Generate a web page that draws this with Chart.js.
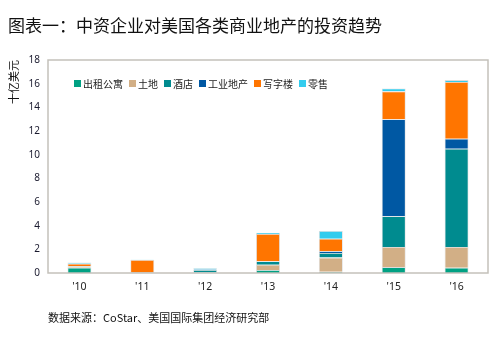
<!DOCTYPE html>
<html>
<head>
<meta charset="utf-8">
<script src="https://cdn.jsdelivr.net/npm/chart.js@4"></script>
<style>
  html, body { margin: 0; padding: 0; background: #fff; }
  body { width: 502px; height: 339px; position: relative; overflow: hidden;
         font-family: "Noto Sans", "Noto Sans CJK SC", sans-serif; }
  #wrap { position: absolute; left: 0; top: 0; width: 502px; height: 339px; }
  #title { position: absolute; left: 8px; top: 12px; font-size: 17px; color: #111;
           font-family: "Noto Sans CJK SC", sans-serif; white-space: nowrap; }
  #source { position: absolute; left: 48px; top: 309px; font-size: 11px; color: #111;
            font-family: "Noto Sans CJK SC", sans-serif; white-space: nowrap; }
  #legend { position: absolute; left: 74px; top: 76px; display: flex; font-size: 10px;
            color: #222; font-family: "Noto Sans CJK SC", sans-serif; white-space: nowrap; }
  #legend span.item { display: flex; align-items: center; margin-right: 6px; }
  #legend span.box { width: 7px; height: 7px; margin-right: 2px; display: inline-block; }
</style>
</head>
<body>
<div id="wrap"><canvas id="chart" width="502" height="339"></canvas></div>
<div id="title">图表一：中资企业对美国各类商业地产的投资趋势</div>
<div id="legend"></div>
<div id="source">数据来源：CoStar、美国国际集团经济研究部</div>
<script>
// data (billion USD)
const years = ["'10", "'11", "'12", "'13", "'14", "'15", "'16"];
const seriesNames = ['出租公寓', '土地', '酒店', '工业地产', '写字楼', '零售'];
const rental     = [0.45, 0,    0.05, 0.25, 0.1,  0.5,  0.45];
const land       = [0.08, 0,    0,    0.45, 1.2,  1.7,  1.75];
const hotel      = [0.05, 0.05, 0.2,  0.3,  0.4,  2.6,  8.3];
const industrial = [0,    0,    0.05, 0,    0.15, 8.2,  0.85];
const office     = [0.2,  1.05, 0,    2.3,  1.05, 2.35, 4.8];
const retail     = [0.1,  0.03, 0.1,  0.1,  0.65, 0.25, 0.15];
const yTicks = [0, 2, 4, 6, 8, 10, 12, 14, 16, 18];

const colors = ['#00a183', '#d2af86', '#008b8f', '#0058a3', '#ff7500', '#33ccee'];
const values = [rental, land, hotel, industrial, office, retail];

// legend (drawn in html, inside plot area)
const legendEl = document.getElementById('legend');
seriesNames.forEach((name, i) => {
    const item = document.createElement('span');
    item.className = 'item';
    item.innerHTML = `<span class="box" style="background:${colors[i]}"></span>${name}`;
    legendEl.appendChild(item);
});

// box around plot area
const frame = {
    id: 'frame',
    afterDraw(chart) {
        const { ctx, chartArea: a } = chart;
        ctx.save();
        ctx.strokeStyle = '#c4c1ba';
        ctx.lineWidth = 1.5;
        ctx.strokeRect(a.left, a.top, a.right - a.left, a.bottom - a.top);
        ctx.restore();
    }
};

new Chart(document.getElementById('chart'), {
    type: 'bar',
    data: {
        labels: years,
        datasets: values.map((v, i) => ({
            label: seriesNames[i],
            data: v,
            backgroundColor: colors[i],
            borderColor: 'rgba(205,205,205,0.7)',
            borderWidth: 0.8,
            barPercentage: 0.38,
            categoryPercentage: 1
        }))
    },
    options: {
        responsive: false,
        animation: false,
        layout: { padding: { left: 0, top: 60, right: 14, bottom: 0 } },
        plugins: { legend: { display: false }, tooltip: { enabled: false } },
        scales: {
            x: {
                stacked: true,
                grid: { display: false, drawTicks: false },
                border: { display: false },
                ticks: { padding: 8, color: '#222', font: { size: 10.5, family: 'Noto Sans' } },
                afterFit(scale) { scale.height = 66; }
            },
            y: {
                stacked: true,
                min: 0, max: 18,
                afterBuildTicks(scale) { scale.ticks = yTicks.map(v => ({ value: v })); },
                grid: { display: false, drawTicks: false },
                border: { display: false },
                ticks: { padding: 8, color: '#1a1a2e', font: { size: 10, family: 'Noto Sans' } },
                title: {
                    display: true, text: '十亿美元', align: 'end',
                    color: '#111', padding: { top: 7, bottom: 0 },
                    font: { size: 11, family: 'Noto Sans CJK SC' }
                },
                afterFit(scale) { scale.width = 48; }
            }
        }
    },
    plugins: [frame]
});
</script>
</body>
</html>
